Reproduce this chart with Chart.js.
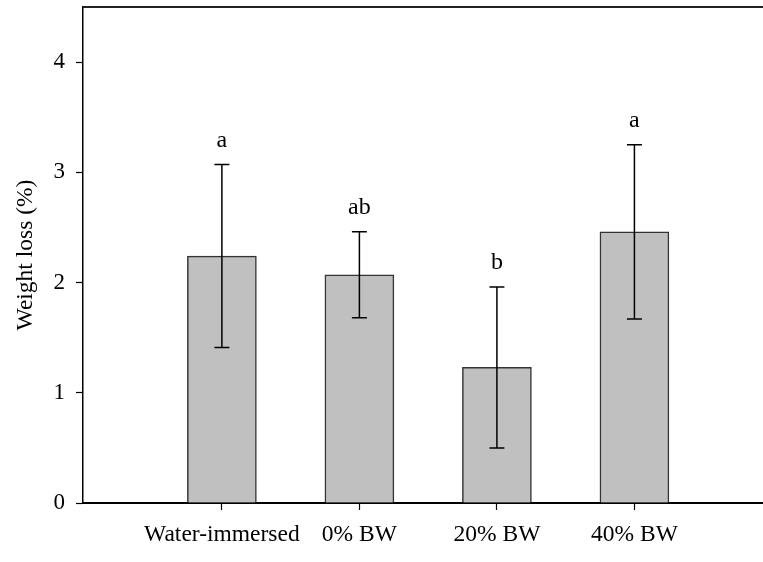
<!DOCTYPE html>
<html>
<head>
<meta charset="utf-8">
<script src="https://cdn.jsdelivr.net/npm/chart.js@4.4.1/dist/chart.umd.min.js"></script>
<style>
  html, body { margin: 0; padding: 0; background: #fff; }
  #wrap { width: 763px; height: 562px; }
</style>
</head>
<body>
<div id="wrap"><canvas id="chart" width="763" height="562"></canvas></div>
<script>
// --- data ---
const categories = ['Water-immersed', '0% BW', '20% BW', '40% BW'];
const meanLoss   = [2.24, 2.07, 1.23, 2.46];
const errLoss    = [0.83, 0.39, 0.73, 0.79];
const sigLetters = ['a', 'ab', 'b', 'a'];
const yTicks     = [0, 1, 2, 3, 4];

const serif = "'Liberation Serif', 'Times New Roman', serif";

// error bars + significance letters
const errorBars = {
    id: 'errorBars',
    afterDatasetsDraw(chart) {
        const { ctx, scales: { x, y } } = chart;
        ctx.save();
        ctx.strokeStyle = '#000';
        ctx.lineWidth = 1.5;
        ctx.fillStyle = '#000';
        ctx.font = `24px ${serif}`;
        ctx.textAlign = 'center';
        ctx.textBaseline = 'alphabetic';
        meanLoss.forEach((m, i) => {
            const px = x.getPixelForValue(i + 1);
            const hi = y.getPixelForValue(m + errLoss[i]);
            const lo = y.getPixelForValue(m - errLoss[i]);
            ctx.beginPath();
            ctx.moveTo(px, hi); ctx.lineTo(px, lo);
            ctx.moveTo(px - 7.5, hi); ctx.lineTo(px + 7.5, hi);
            ctx.moveTo(px - 7.5, lo); ctx.lineTo(px + 7.5, lo);
            ctx.stroke();
            ctx.fillText(sigLetters[i], px, hi - 18);
        });
        ctx.restore();
    }
};

// top border line of the frame
const topFrame = {
    id: 'topFrame',
    afterDraw(chart) {
        const { ctx, chartArea: a } = chart;
        ctx.save();
        ctx.strokeStyle = '#222';
        ctx.lineWidth = 2;
        ctx.beginPath();
        ctx.moveTo(a.left, a.top); ctx.lineTo(a.right, a.top);
        ctx.stroke();
        ctx.restore();
    }
};

new Chart(document.getElementById('chart'), {
    type: 'bar',
    data: {
        datasets: [{
            data: meanLoss.map((v, i) => ({ x: i + 1, y: v })),
            backgroundColor: '#c0c0c0',
            borderColor: '#333',
            borderWidth: 1.5,
            barThickness: 69
        }]
    },
    options: {
        responsive: false,
        animation: false,
        layout: { padding: { top: 7, right: 0, left: 0, bottom: 0 } },
        plugins: { legend: { display: false }, tooltip: { enabled: false } },
        scales: {
            x: {
                type: 'linear',
                offset: false,
                min: -0.01, max: 4.935,
                afterBuildTicks: s => { s.ticks = categories.map((c, i) => ({ value: i + 1 })); },
                afterFit: s => { s.height = 59; s.paddingLeft = 0; s.paddingRight = 0; },
                grid: { offset: false, drawOnChartArea: false, color: '#000', tickLength: 7, tickWidth: 1.2 },
                border: { color: '#000', width: 2 },
                ticks: {
                    color: '#000', padding: 11, maxRotation: 0, autoSkip: false,
                    font: { family: serif, size: 23.5 },
                    callback: v => categories[v - 1] || ''
                }
            },
            y: {
                min: 0, max: 4.5,
                afterBuildTicks: s => { s.ticks = yTicks.map(v => ({ value: v })); },
                afterFit: s => { s.width = 83; s.paddingTop = 0; s.paddingBottom = 0; },
                grid: { drawOnChartArea: false, color: '#000', tickLength: 7, tickWidth: 1.2 },
                border: { color: '#000', width: 1.5 },
                ticks: { color: '#000', padding: 11, font: { family: serif, size: 23 } },
                title: {
                    display: true, text: 'Weight loss (%)', color: '#000',
                    font: { family: serif, size: 23.5 },
                    padding: { top: 12, bottom: 0 }
                }
            }
        }
    },
    plugins: [errorBars, topFrame]
});
</script>
</body>
</html>
